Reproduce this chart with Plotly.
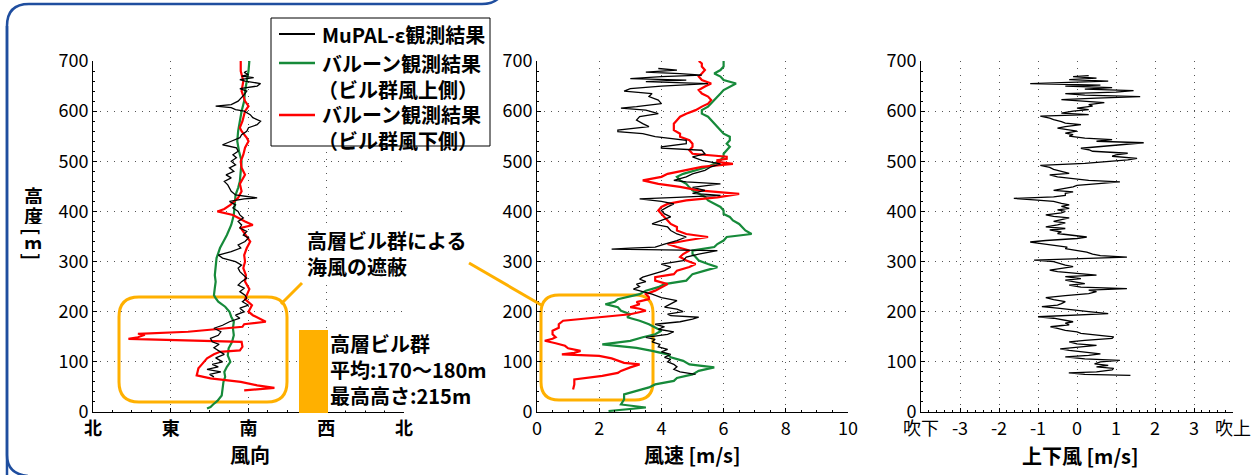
import plotly.graph_objects as go

W, H = 1252, 475
FONT = "Noto Sans CJK JP"

# ---------------- data ----------------
# Wind direction [deg] (0=N, 90=E, 180=S, 270=W)
green_dir_h = [7, 10, 15, 22, 33, 45, 60, 70, 80, 90, 100, 113, 127, 140, 153, 167, 180, 190, 200, 210,
               220, 227, 233, 247, 260, 273, 287, 297, 307, 317, 327, 340, 353, 373, 393, 413, 433, 447,
               460, 480, 500, 520, 540, 560, 580, 600, 620, 640, 660, 680, 700]
green_dir = [132, 136, 139, 144, 149, 150, 151, 153, 152, 155, 159, 156, 157, 161, 163, 162, 163, 160, 158, 153,
             145, 142, 140, 141, 142, 141, 142, 143, 143, 145, 147, 151, 155, 160, 163, 164, 165, 168,
             170, 171, 172, 169, 167, 168, 170, 172, 175, 176, 178, 180, 181]

red_dir_h = [43, 48, 53, 60, 67, 73, 80, 87, 95, 107, 115, 120, 123, 130, 140, 146, 149, 154, 156, 160, 170,
             175, 180, 188, 193, 200, 213, 225, 233, 245, 260, 273, 287, 300, 313, 327, 340, 353, 367, 373, 380,
             393, 398, 400, 405, 413, 427, 440, 455, 473, 487, 500, 513, 527, 540, 547, 560, 567, 580, 600,
             610, 620, 640, 660, 680, 700]
red_dir = [175, 210, 190, 171, 136, 120, 121, 122, 126, 132, 140, 147, 170, 173, 172, 41, 52, 60, 52, 110, 173,
           175, 200, 190, 185, 180, 184, 176, 178, 181, 176, 177, 174, 176, 175, 178, 182, 177, 171, 185, 176,
           162, 150, 144, 152, 159, 168, 172, 170, 176, 172, 171, 174, 176, 180, 178, 172, 170, 173, 176,
           180, 176, 172, 174, 171, 171]

mupal_dir_h = [70, 75, 80, 85, 90, 95, 100, 108, 115, 122, 128, 135, 140, 147, 153, 160, 167, 173, 180, 187,
               193, 200, 207, 213, 220, 227, 233, 240, 247, 253, 260, 267, 273, 280, 287, 293, 300, 307, 313,
               320, 327, 333, 340, 347, 353, 360, 367, 373, 380, 387, 393, 400, 407, 413, 420, 425, 427, 433,
               440, 447, 453, 460, 467, 473, 480, 487, 493, 500, 507, 513, 520, 527, 533, 540, 547, 553, 560,
               567, 573, 580, 587, 593, 600, 603, 607, 610, 613, 620, 627, 633, 640, 645, 650, 655, 660, 663,
               667, 670, 673, 677, 680]
mupal_dir = [140, 135, 148, 132, 145, 138, 150, 142, 152, 145, 140, 146, 138, 136, 145, 148, 140, 150, 158, 170,
             165, 175, 170, 180, 173, 178, 176, 170, 175, 168, 172, 178, 174, 170, 168, 172, 165, 150, 145,
             160, 171, 168, 176, 180, 174, 178, 170, 172, 168, 174, 170, 168, 162, 165, 158, 175, 190, 165,
             160, 158, 156, 152, 160, 154, 163, 158, 165, 160, 166, 162, 168, 166, 150, 160, 170, 172, 178,
             180, 190, 194, 185, 182, 175, 165, 160, 142, 160, 168, 172, 175, 178, 170, 190, 194, 176, 170,
             186, 172, 180, 175, 178]

# Wind speed [m/s]
green_spd_h = [2, 9, 15, 25, 35, 49, 55, 62, 68, 75, 82, 89, 95, 102, 109, 115, 122, 128, 135, 142, 149, 155,
               162, 168, 175, 182, 189, 195, 202, 209, 215, 220, 225, 235, 242, 249, 255, 262, 269, 275, 282,
               289, 295, 302, 309, 315, 322, 329, 335, 342, 349, 355, 362, 369, 375, 382, 389, 395, 402, 409,
               415, 422, 429, 435, 442, 448, 455, 462, 469, 475, 482, 489, 495, 502, 509, 515, 522, 529, 535,
               542, 549, 555, 562, 569, 575, 582, 589, 595, 602, 609, 615, 622, 629, 635, 642, 648, 655, 662,
               669, 675, 682, 689, 695, 702]
green_spd = [2.3, 3.5, 2.7, 2.8, 2.8, 3.6, 3.8, 4.4, 4.5, 5.0, 5.2, 5.7, 4.9, 4.7, 4.3, 4.2, 3.7, 3.2, 2.1, 3.0,
             3.4, 3.8, 4.0, 3.8, 3.6, 3.3, 2.9, 3.0, 2.7, 2.6, 2.2, 2.5, 2.6, 3.3, 3.5, 3.9, 4.1, 4.8, 4.9,
             5.0, 5.4, 5.8, 5.5, 5.2, 5.1, 5.0, 5.0, 5.7, 5.8, 6.0, 6.1, 6.9, 6.7, 6.6, 6.5, 6.3, 6.2, 6.0,
             6.0, 5.9, 5.7, 5.5, 5.4, 5.2, 5.0, 4.9, 4.8, 4.6, 4.5, 4.7, 5.1, 5.5, 5.7, 5.9, 6.0, 6.0, 6.1,
             6.2, 6.1, 6.2, 6.2, 6.0, 5.9, 5.8, 5.7, 5.6, 5.5, 5.3, 5.3, 5.5, 5.6, 5.7, 5.8, 5.9, 6.0, 6.2,
             6.4, 6.0, 5.9, 5.7, 5.9, 6.0, 6.0, 6.0]

red_spd_h = [45, 55, 65, 72, 78, 82, 89, 95, 98, 102, 107, 112, 115, 118, 122, 127, 132, 137, 142, 146, 149,
             155, 162, 168, 175, 182, 186, 189, 195, 202, 206, 209, 215, 219, 225, 229, 235, 242, 249, 255,
             262, 269, 275, 282, 289, 295, 302, 309, 315, 322, 329, 335, 342, 349, 355, 362, 369, 375, 382,
             389, 395, 402, 409, 415, 422, 428, 435, 439, 442, 449, 455, 462, 466, 469, 475, 482, 489, 495,
             499, 502, 505, 509, 515, 522, 529, 535, 542, 549, 555, 562, 569, 575, 582, 589, 595, 602, 609,
             615, 622, 629, 635, 642, 649, 655, 662, 669, 675, 682, 689, 695, 700]
red_spd = [1.16, 1.2, 1.2, 2.1, 2.6, 2.7, 3.0, 3.3, 2.8, 2.6, 2.4, 2.0, 0.8, 1.2, 1.4, 1.0, 0.9, 0.6, 0.25, 0.5,
           0.6, 0.5, 0.5, 0.7, 0.7, 0.84, 1.5, 2.2, 3.0, 3.5, 3.3, 3.0, 3.3, 3.2, 3.6, 3.6, 3.5, 3.8, 4.0,
           4.2, 3.8, 3.8, 4.4, 4.5, 4.9, 5.1, 4.8, 4.6, 4.7, 4.9, 4.5, 4.2, 4.8, 5.5, 4.8, 4.5, 4.5, 4.3,
           4.2, 4.1, 4.0, 3.9, 4.0, 4.2, 4.8, 5.8, 6.5, 5.8, 5.2, 4.6, 3.9, 3.4, 3.8, 4.0, 4.2, 4.8, 5.3,
           6.3, 5.8, 5.8, 6.1, 6.1, 5.0, 4.9, 5.0, 5.0, 4.9, 4.6, 4.6, 4.4, 4.4, 4.4, 4.5, 4.6, 4.8, 5.1,
           5.3, 5.5, 5.6, 5.5, 5.3, 5.2, 5.4, 5.6, 5.3, 5.2, 5.3, 5.4, 5.3, 5.3, 5.2]

mupal_spd_h = [75, 80, 85, 90, 95, 100, 105, 109, 115, 120, 125, 130, 135, 140, 145, 149, 155, 160, 165, 170,
               175, 180, 185, 189, 192, 195, 200, 205, 209, 215, 222, 228, 235, 240, 245, 250, 255, 260, 265,
               269, 275, 282, 289, 295, 302, 309, 315, 322, 324, 325, 327, 329, 335, 342, 349, 355, 362, 369,
               375, 382, 389, 395, 402, 409, 415, 420, 425, 428, 432, 436, 442, 448, 455, 459, 462, 469, 475,
               482, 489, 495, 502, 509, 515, 522, 526, 529, 535, 542, 549, 555, 559, 562, 569, 575, 582, 589,
               595, 602, 606, 609, 615, 622, 629, 635, 640, 645, 650, 655, 659, 662, 665, 669, 672, 675, 678,
               682, 685]
mupal_spd = [5.1, 4.6, 4.4, 4.5, 4.4, 4.2, 4.3, 4.1, 4.3, 4.0, 4.2, 3.9, 3.95, 3.7, 3.8, 3.5, 4.2, 4.4, 3.9, 4.1,
             3.8, 4.6, 5.0, 5.2, 4.3, 4.2, 4.7, 4.5, 4.1, 4.3, 4.5, 4.0, 3.7, 3.4, 3.1, 3.3, 3.2, 3.5, 3.3,
             3.4, 3.7, 4.1, 4.3, 4.0, 4.7, 4.8, 5.2, 5.8, 3.5, 2.4, 3.0, 3.8, 4.1, 4.5, 4.8, 4.5, 4.3, 4.2,
             3.7, 4.0, 4.3, 4.1, 4.0, 4.2, 4.4, 4.0, 3.3, 4.5, 5.9, 5.0, 5.4, 5.0, 5.9, 4.8, 4.4, 4.8, 5.0,
             5.4, 5.6, 5.9, 5.3, 5.0, 5.4, 5.3, 4.0, 4.0, 4.8, 4.8, 3.8, 3.4, 2.6, 2.6, 3.6, 3.4, 3.2, 3.3,
             3.9, 3.5, 2.7, 3.2, 4.0, 3.9, 3.6, 3.7, 2.8, 3.0, 4.0, 5.5, 3.5, 4.8, 3.0, 4.0, 5.3, 4.6, 3.5,
             4.5, 3.9]

# Vertical wind [m/s] (MuPAL-epsilon)
mupal_w_h = [73, 75, 78, 80, 84, 87, 90, 93, 96, 100, 103, 106, 110, 113, 116, 120, 123, 126, 130, 133, 136,
             140, 143, 147, 150, 154, 157, 160, 163, 167, 170, 174, 177, 180, 184, 187, 190, 193, 196, 200,
             203, 207, 210, 213, 216, 220, 224, 228, 232, 236, 240, 243, 246, 249, 253, 256, 260, 263, 266,
             270, 273, 277, 280, 283, 287, 290, 293, 297, 300, 303, 306, 309, 312, 315, 319, 322, 326, 329,
             333, 336, 339, 342, 346, 349, 353, 356, 359, 363, 366, 369, 373, 377, 380, 383, 387, 390, 393,
             397, 400, 403, 406, 410, 413, 416, 420, 423, 426, 429, 432, 436, 439, 442, 446, 449, 452, 455,
             459, 462, 466, 469, 473, 476, 480, 484, 488, 492, 496, 500, 503, 506, 510, 513, 516, 520, 523,
             526, 530, 533, 537, 540, 543, 546, 550, 553, 556, 560, 563, 566, 569, 573, 576, 579, 583, 586,
             590, 593, 596, 600, 603, 606, 610, 613, 617, 620, 623, 626, 629, 632, 635, 638, 641, 644, 647,
             650, 652, 655, 658, 660, 663, 666, 669, 671]
mupal_w = [1.37, 0.2, -0.21, 0.5, 0.9, 0.94, 0.5, 0.8, 0.45, 0.6, 1.1, 0.2, -0.3, 0.3, 0.6, 0.1, -0.2, -0.43,
           0.2, 0.5, 0.0, -0.2, 0.2, 0.9, 0.94, 0.4, 0.1, 0.0, -0.3, -0.5, -0.68, -0.2, -0.3, -0.1, -0.4,
           -0.6, -1.0, 0.1, 0.8, 0.3, 0.0, -0.5, -0.9, -0.5, -0.4, -0.3, -0.6, -0.8, -0.3, 0.3, 0.5, 0.3,
           1.28, 0.1, -0.2, 0.2, -0.1, -0.3, 0.1, -0.3, 0.5, -0.2, -0.5, -0.7, -0.4, -0.1, -0.3, -0.5, -0.6,
           -1.1, 0.0, 1.28, 0.6, 0.4, 0.25, 0.0, -0.3, -0.25, -0.6, -0.9, -1.2, -0.8, 0.0, 0.25, -0.2, -0.5,
           -0.4, -0.7, -0.3, -0.8, -0.5, -0.3, -0.6, -0.4, -0.2, -0.6, -0.8, -0.4, -0.3, -0.5, -0.2, -0.4,
           -0.2, -0.4, -0.6, -1.1, -1.62, -0.6, -0.3, -0.3, -0.1, -0.6, -0.3, -0.1, 0.0, 0.4, 1.1, 0.3, -0.2,
           -0.5, -0.7, -0.2, -0.4, -0.6, -0.7, -0.94, 0.2, 0.9, 1.3, 1.54, 0.9, 1.0, 1.3, 0.4, 0.3, 0.1, 0.7,
           1.3, 1.71, 0.5, 0.9, 0.2, -0.2, -0.1, -0.3, 0.0, -0.2, -0.5, -0.3, 0.1, -0.3, -0.4, -0.6, -0.7,
           -0.94, 0.3, -0.4, -0.1, 0.3, 0.0, 0.4, 0.3, 0.7, 0.0, -0.4, 0.5, 1.62, 0.2, -0.3, 1.0, 1.45, 0.2,
           0.9, -0.3, 0.6, -1.2, 0.2, 0.8, -0.2, 0.5, -0.1, 0.3]

# Axis ticks
height_ticks = [0, 100, 200, 300, 400, 500, 600, 700]
dir_ticks = [0, 90, 180, 270, 360]
dir_labels = ["北", "東", "南", "西", "北"]
spd_ticks = [0, 2, 4, 6, 8, 10]
w_ticks = [-4, -3, -2, -1, 0, 1, 2, 3, 4]
w_labels = ["吹下", "-3", "-2", "-1", "0", "1", "2", "3", "吹上"]

# ---------------- helpers ----------------
def px(x):
    return x / W


def py(y):
    return 1 - y / H


BLACK = "#000000"
GREEN = "#168a3a"
RED = "#ff0000"
ORANGE = "#FFB000"
BLUE = "#1f4e9f"

fig = go.Figure()

def add_line(x, y, ax, color, width):
    fig.add_trace(go.Scatter(x=x, y=y, xaxis="x" + ax, yaxis="y" + ax, mode="lines",
                             line=dict(color=color, width=width), showlegend=False,
                             hoverinfo="skip"))

add_line(green_dir, green_dir_h, "", GREEN, 2.2)
add_line(red_dir, red_dir_h, "", RED, 2.2)
add_line(mupal_dir, mupal_dir_h, "", BLACK, 1.3)
add_line(green_spd, green_spd_h, "2", GREEN, 2.2)
add_line(red_spd, red_spd_h, "2", RED, 2.2)
add_line(mupal_spd, mupal_spd_h, "2", BLACK, 1.3)
add_line(mupal_w, mupal_w_h, "3", BLACK, 1.3)

tickfont = dict(family=FONT, size=18, color="black")
grid = dict(showgrid=True, gridcolor="#555555", griddash="1px,6px", gridwidth=1,
            showline=True, linecolor="black", linewidth=1, ticks="inside", ticklen=4,
            tickcolor="black", zeroline=False, tickfont=tickfont)

ydom = [py(412), py(61)]

def yax(anchor):
    return dict(range=[0, 700], tickvals=height_ticks, domain=ydom, anchor=anchor,
                minor=dict(ticks="inside", ticklen=2, dtick=20, tickcolor="black", showgrid=False),
                **grid)

fig.update_layout(
    width=W, height=H, margin=dict(l=0, r=0, t=0, b=0, autoexpand=False),
    paper_bgcolor="white", plot_bgcolor="white", showlegend=False,
    font=dict(family=FONT, color="black"),
    xaxis=dict(range=[0, 360], tickvals=dir_ticks, ticktext=["<b>%s</b>" % t for t in dir_labels],
               domain=[px(93), px(404)], anchor="y",
               minor=dict(ticks="inside", ticklen=2, dtick=22.5, tickcolor="black", showgrid=False), **grid),
    yaxis=yax("x"),
    xaxis2=dict(range=[0, 10], tickvals=spd_ticks, domain=[px(537), px(848)], anchor="y2",
                minor=dict(ticks="inside", ticklen=2, dtick=0.5, tickcolor="black", showgrid=False), **grid),
    yaxis2=yax("x2"),
    xaxis3=dict(range=[-4, 4], tickvals=w_ticks, ticktext=w_labels, domain=[px(921), px(1233)], anchor="y3",
                minor=dict(ticks="inside", ticklen=2, dtick=0.2, tickcolor="black", showgrid=False), **grid),
    yaxis3=yax("x3"),
)

shapes = []
ann = []

def text(x, y, s, size=20, xanchor="left", bold=True, bg=None, angle=0, h=None):
    d = dict(x=px(x), y=py(y), xref="paper", yref="paper", text=("<b>%s</b>" % s) if bold else s,
             showarrow=False, xanchor=xanchor, yanchor="middle", textangle=angle, align="left",
             font=dict(family=FONT, size=size, color="black"))
    if bg:
        d["bgcolor"] = bg
        d["borderpad"] = 0
    if h:
        d["height"] = h
        d["borderpad"] = 0
    ann.append(d)


def rrect(x0, y0, x1, y1, r):
    X = lambda v: "%.5f" % px(v)
    Y = lambda v: "%.5f" % py(v)
    p = ("M %s,%s L %s,%s Q %s,%s %s,%s L %s,%s Q %s,%s %s,%s L %s,%s Q %s,%s %s,%s L %s,%s Q %s,%s %s,%s Z" % (
        X(x0 + r), Y(y0), X(x1 - r), Y(y0), X(x1), Y(y0), X(x1), Y(y0 + r),
        X(x1), Y(y1 - r), X(x1), Y(y1), X(x1 - r), Y(y1),
        X(x0 + r), Y(y1), X(x0), Y(y1), X(x0), Y(y1 - r),
        X(x0), Y(y0 + r), X(x0), Y(y0), X(x0 + r), Y(y0)))
    return p

# orange highlight boxes (white filled, between grid and traces)
shapes.append(dict(type="path", path=rrect(119, 297, 287, 402, 20), xref="paper", yref="paper",
                   line=dict(color=ORANGE, width=3), fillcolor="white", layer="between"))
shapes.append(dict(type="path", path=rrect(541, 295, 653, 400, 18), xref="paper", yref="paper",
                   line=dict(color=ORANGE, width=3), fillcolor="white", layer="between"))
# connectors
shapes.append(dict(type="line", x0=px(281), y0=py(304), x1=px(302), y1=py(283), xref="paper", yref="paper",
                   line=dict(color=ORANGE, width=3)))
shapes.append(dict(type="line", x0=px(469), y0=py(263), x1=px(543), y1=py(306), xref="paper", yref="paper",
                   line=dict(color=ORANGE, width=3)))
# building bar
shapes.append(dict(type="rect", x0=px(299), y0=py(330), x1=px(328), y1=py(413), xref="paper", yref="paper",
                   line=dict(width=0), fillcolor=ORANGE, layer="above"))

# legend box
shapes.append(dict(type="rect", x0=px(271), y0=py(18), x1=px(490), y1=py(146), xref="paper", yref="paper",
                   line=dict(color="black", width=1), fillcolor="white", layer="above"))
for yy, col in [(34, BLACK), (63, GREEN), (115, RED)]:
    shapes.append(dict(type="line", x0=px(279), x1=px(315), y0=py(yy), y1=py(yy), xref="paper", yref="paper",
                       line=dict(color=col, width=2.5 if col != BLACK else 2)))
text(320, 34, "MuPAL-ε観測結果")
text(316, 76, "<b>\u2009バルーン観測結果</b><br><b>（ビル群風上側）</b>", bold=False)
text(316, 127, "<b>\u2009バルーン観測結果</b><br><b>（ビル群風下側）</b>", bold=False)

# annotations
text(306, 253, "<b>高層ビル群による</b><br><b>海風の遮蔽</b>", bold=False, bg="white")
text(329, 369, "<b>高層ビル群</b><br><b>平均:170～180m</b><br><b>最高高さ:215m</b>", bold=False, bg="white")

# axis titles
text(250, 454, "風向", xanchor="center")
text(693, 454, "風速 [m/s]", xanchor="center")
text(1080, 455, "上下風 [m/s]", xanchor="center")

# y-axis title (vertical writing: upright characters, brackets turned)
text(33, 195, "高", size=19, xanchor="center", h=18)
text(33, 215, "度", size=19, xanchor="center", h=18)
text(33, 231, "[", size=19, xanchor="center", angle=90)
text(33, 243, "m", size=19, xanchor="center", h=13)
text(33, 256, "]", size=19, xanchor="center", angle=90)

# blue frame
frame = "M %.5f,%.5f L %.5f,%.5f Q %.5f,%.5f %.5f,%.5f L %.5f,%.5f Q %.5f,%.5f %.5f,%.5f" % (
    px(7), py(480), px(7), py(26), px(7), py(4), px(29), py(4), px(482), py(4), px(496), py(4), px(502), py(-6))
shapes.append(dict(type="path", path=frame, xref="paper", yref="paper", line=dict(color=BLUE, width=2.5)))
bottom = "M %.5f,%.5f L %.5f,%.5f Q %.5f,%.5f %.5f,%.5f" % (
    px(7), py(26), px(7), py(455), px(7), py(474), px(28), py(476))
shapes.append(dict(type="path", path=bottom, xref="paper", yref="paper", line=dict(color=BLUE, width=2.5)))

fig.update_layout(shapes=shapes, annotations=ann)
fig.write_html("out.html", config={"displayModeBar": False},
               post_script="document.body.style.margin='0px';document.body.style.overflow='hidden';")
